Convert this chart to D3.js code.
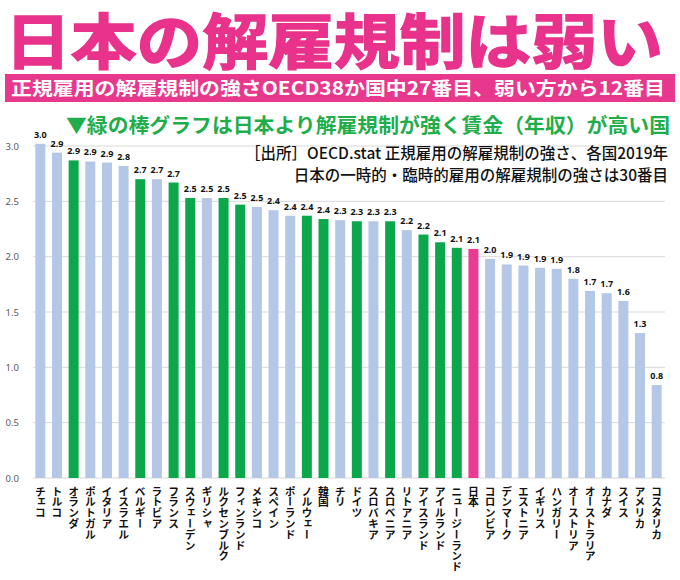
<!DOCTYPE html>
<html><head><meta charset="utf-8">
<script src="https://cdn.jsdelivr.net/npm/d3@7"></script>
<style>
html,body{margin:0;padding:0;background:#fff;}
svg{display:block;font-family:"Noto Sans CJK JP","Noto Sans",sans-serif;}
</style></head>
<body><svg id="c" width="680" height="580"></svg>
<script>
const categories = ["チェコ","トルコ","オランダ","ポルトガル","イタリア","イスラエル","ベルギー","ラトビア","フランス","スウェーデン","ギリシャ","ルクセンブルク","フィンランド","メキシコ","スペイン","ポーランド","ノルウェー","韓国","チリ","ドイツ","スロバキア","スロベニア","リトアニア","アイスランド","アイルランド","ニュージーランド","日本","コロンビア","デンマーク","エストニア","イギリス","ハンガリー","オーストリア","オーストラリア","カナダ","スイス","アメリカ","コスタリカ"];
const values = [3.02,2.94,2.87,2.86,2.85,2.82,2.70,2.70,2.67,2.53,2.53,2.53,2.47,2.45,2.42,2.37,2.37,2.34,2.33,2.32,2.32,2.32,2.24,2.20,2.13,2.08,2.07,1.98,1.93,1.92,1.90,1.89,1.80,1.69,1.67,1.60,1.31,0.84];
const labels = ["3.0","2.9","2.9","2.9","2.9","2.8","2.7","2.7","2.7","2.5","2.5","2.5","2.5","2.5","2.4","2.4","2.4","2.4","2.3","2.3","2.3","2.3","2.2","2.2","2.1","2.1","2.1","2.0","1.9","1.9","1.9","1.9","1.8","1.7","1.7","1.6","1.3","0.8"];
const greenCountries = ["オランダ","ベルギー","フランス","スウェーデン","ルクセンブルク","フィンランド","ノルウェー","韓国","ドイツ","スロベニア","アイスランド","アイルランド","ニュージーランド"];
const highlight = "日本";
const yTicks = [0,0.5,1.0,1.5,2.0,2.5,3.0];

const title = "日本の解雇規制は弱い";
const subtitle = "正規雇用の解雇規制の強さOECD38か国中27番目、弱い方から12番目";
const note = "▼緑の棒グラフは日本より解雇規制が強く賃金（年収）が高い国";
const source1 = "［出所］OECD.stat 正規雇用の解雇規制の強さ、各国2019年";
const source2 = "日本の一時的・臨時的雇用の解雇規制の強さは30番目";

const svg = d3.select("#c");
svg.append("rect").attr("width",680).attr("height",580).attr("fill","#fff");

const x = d3.scaleBand().domain(categories).range([32,665]).paddingInner(0.4).paddingOuter(0.2);
const y = d3.scaleLinear().domain([0,3]).range([478,146]);

// gridlines
svg.append("g").selectAll("line").data(yTicks).join("line")
  .attr("x1",33).attr("x2",665)
  .attr("y1",d=>y(d)).attr("y2",d=>y(d))
  .attr("stroke","#d9d9d9").attr("stroke-width",1);

// y axis labels
const yAxis = d3.axisLeft(y).tickValues(yTicks).tickFormat(d3.format(".1f")).tickSize(0).tickPadding(0);
const ya = svg.append("g").attr("transform","translate(19,0)").call(yAxis);
ya.select(".domain").remove();
ya.selectAll("text").attr("fill","#595959").attr("font-size",9.5).attr("font-family","'Noto Sans','DejaVu Sans',sans-serif");

// bars
svg.append("g").selectAll("rect").data(categories).join("rect")
  .attr("x",d=>x(d)).attr("width",x.bandwidth())
  .attr("y",(d,i)=>y(values[i])).attr("height",(d,i)=>y(0)-y(values[i]))
  .attr("fill",d=> d===highlight ? "#ec3a94" : (greenCountries.includes(d) ? "#0aa84a" : "#b4c7e7"));

// value labels
svg.append("g").selectAll("text").data(categories).join("text")
  .attr("x",d=>x(d)+x.bandwidth()/2)
  .attr("y",(d,i)=>y(values[i])-6)
  .attr("text-anchor","middle")
  .attr("font-size",9).attr("font-weight","bold").attr("fill","#111")
  .attr("font-family","'Open Sans','Noto Sans',sans-serif")
  .text((d,i)=>labels[i]);

// category labels (vertical)
svg.append("g").selectAll("text").data(categories).join("text")
  .attr("x",d=>x(d)+x.bandwidth()/2)
  .attr("y",486)
  .attr("text-anchor","start")
  .style("writing-mode","vertical-rl")
  .attr("font-size",10.8).attr("font-weight","bold").attr("fill","#111")
  .text(d=>d);

// title
svg.append("text").attr("x",5).attr("y",64)
  .attr("font-size",60).attr("font-weight","bold")
  .attr("fill","#e8328b").attr("stroke","#e8328b").attr("stroke-width",1.5)
  .attr("textLength",658).attr("lengthAdjust","spacingAndGlyphs")
  .text(title);

// subtitle band
svg.append("rect").attr("x",5).attr("y",74).attr("width",670).attr("height",28).attr("fill","#e8388d");
svg.append("text").attr("x",11).attr("y",95)
  .attr("font-size",18.5).attr("font-weight","bold").attr("fill","#fff")
  .attr("textLength",654).attr("lengthAdjust","spacingAndGlyphs")
  .text(subtitle);

// note
svg.append("text").attr("x",66).attr("y",133)
  .attr("font-size",20).attr("font-weight","bold").attr("fill","#1fae4b")
  .attr("textLength",604).attr("lengthAdjust","spacingAndGlyphs")
  .text(note);

// source
svg.append("text").attr("x",668).attr("y",159).attr("text-anchor","end")
  .attr("font-size",15.5).attr("font-weight","500").attr("fill","#111")
  .text(source1);
svg.append("text").attr("x",668).attr("y",181).attr("text-anchor","end")
  .attr("font-size",15.5).attr("font-weight","500").attr("fill","#111")
  .text(source2);
</script></body></html>
